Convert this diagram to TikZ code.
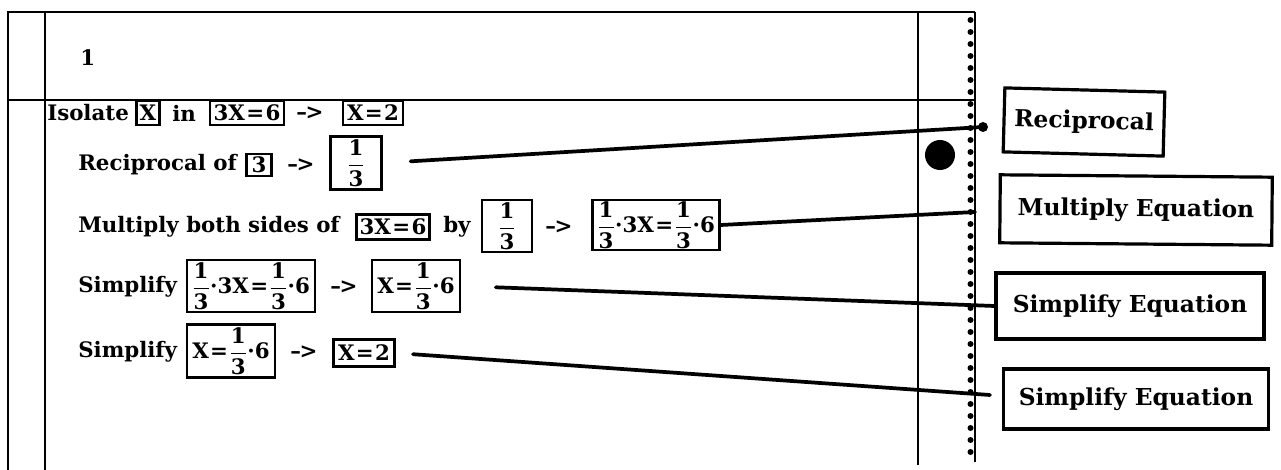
\documentclass[tikz,border=0pt]{standalone}
\usepackage{fontspec}
\setmainfont{DejaVu Serif}
\newcommand\thr{$\displaystyle\frac{\mbox{1}}{\mbox{3}}$}
\newcommand\dt{·}
\newcommand\eq{\hspace{1pt}=\hspace{1pt}}
\newcommand\arr{–\kern-1pt>}
\begin{document}
\begin{tikzpicture}[x=0.75pt,y=-0.75pt,
  txt/.style={anchor=west,inner sep=0pt,font=\bfseries\fontsize{16}{18}\selectfont},
  ebox/.style={draw,line width=1.8pt,inner sep=0pt,font=\bfseries\fontsize{16}{18}\selectfont,minimum width=#1},
  lbl/.style={draw,line width=2.4pt,inner sep=0pt,font=\bfseries\fontsize{17.5}{20}\selectfont,minimum width=#1},
  conn/.style={line width=2.8pt,line cap=round},
  frame/.style={line width=1.8pt},
  thin/.style={line width=1.3pt}]
\useasboundingbox (0,0) rectangle (1281,470);
% frame
\draw[frame] (8,470) -- (8,12) -- (975,12);
\draw[frame] (8,100) -- (975,100);
\draw[thin] (45,12) -- (45,470);
\draw[thin] (918,12) -- (918,465);
\draw[frame] (975,12) -- (975,462);
\foreach \y in {20,32,...,456} \fill (970.5,\y) circle (3);
\fill (940,155) circle (15);
\node[txt] (one) at (80,58) {1};
% row 1
\node[txt] (iso) at (47,113) {Isolate};
\node[ebox=23*0.75pt,minimum height=24*0.75pt] (bx) at (148,113) {X};
\node[txt] (in) at (172,113) {in};
\node[ebox=74*0.75pt,minimum height=24*0.75pt] (b36) at (247,113) {3X\eq6};
\node[txt] (a1) at (296,113) {\arr};
\node[ebox=60*0.75pt,minimum height=24*0.75pt] (bx2) at (373,113) {X\eq2};
% row 2
\node[txt] (rec) at (78,165) {Reciprocal of};
\node[ebox=25*0.75pt,minimum height=22*0.75pt] (b3) at (259,165) {3};
\node[txt] (a2) at (287,165) {\arr};
\node[ebox=51*0.75pt,minimum height=53*0.75pt] (fr1) at (356,163) {\thr};
% row 3
\node[txt] (mul) at (78,227) {Multiply both sides of};
\node[ebox=73*0.75pt,minimum height=25*0.75pt] (b36b) at (393,227) {3X\eq6};
\node[txt] (by) at (443,227) {by};
\node[ebox=50*0.75pt,minimum height=52*0.75pt] (fr2) at (507,226) {\thr};
\node[txt] (a3) at (545,227) {\arr};
\node[ebox=127*0.75pt,minimum height=50*0.75pt] (res) at (656,225) {\thr\dt3X\eq\thr\dt6};
% row 4
\node[txt] (s1) at (78,287) {Simplify};
\node[ebox=128*0.75pt,minimum height=52*0.75pt] (s1a) at (251,286) {\thr\dt3X\eq\thr\dt6};
\node[txt] (a4) at (330,287) {\arr};
\node[ebox=88*0.75pt,minimum height=52*0.75pt] (s1b) at (416,286) {X\eq\thr\dt6};
% row 5
\node[txt] (s2) at (78,352) {Simplify};
\node[ebox=88*0.75pt,minimum height=53*0.75pt] (s2a) at (231,351) {X\eq\thr\dt6};
\node[txt] (a5) at (290,352) {\arr};
\node[ebox=61*0.75pt,minimum height=27*0.75pt] (s2b) at (364,353) {X\eq2};
% labels
\node[lbl=160*0.75pt,minimum height=64*0.75pt,rotate=-1.5] (L1) at (1084,122) {Reciprocal};
\node[lbl=272*0.75pt,minimum height=68*0.75pt,rotate=-0.5] (L2) at (1136,210) {Multiply Equation};
\node[lbl=268*0.75pt,minimum height=66*0.75pt] (L3) at (1130,306) {Simplify Equation};
\node[lbl=265*0.75pt,minimum height=60*0.75pt] (L4) at (1136,399) {Simplify Equation};
% connector ends
\coordinate (e1) at (983,127);
\coordinate (e2) at (975,212);
\coordinate (e4) at (990,395);
\draw[conn,shorten <=21pt] (fr1.east) -- (e1);
\fill (e1) circle (5);
\draw[conn] (res.east) -- (e2);
\draw[conn,shorten <=26pt] (s1b.east) -- (L3.west);
\draw[conn,shorten <=13pt] (s2b.east) -- (e4);
\end{tikzpicture}
\end{document}
